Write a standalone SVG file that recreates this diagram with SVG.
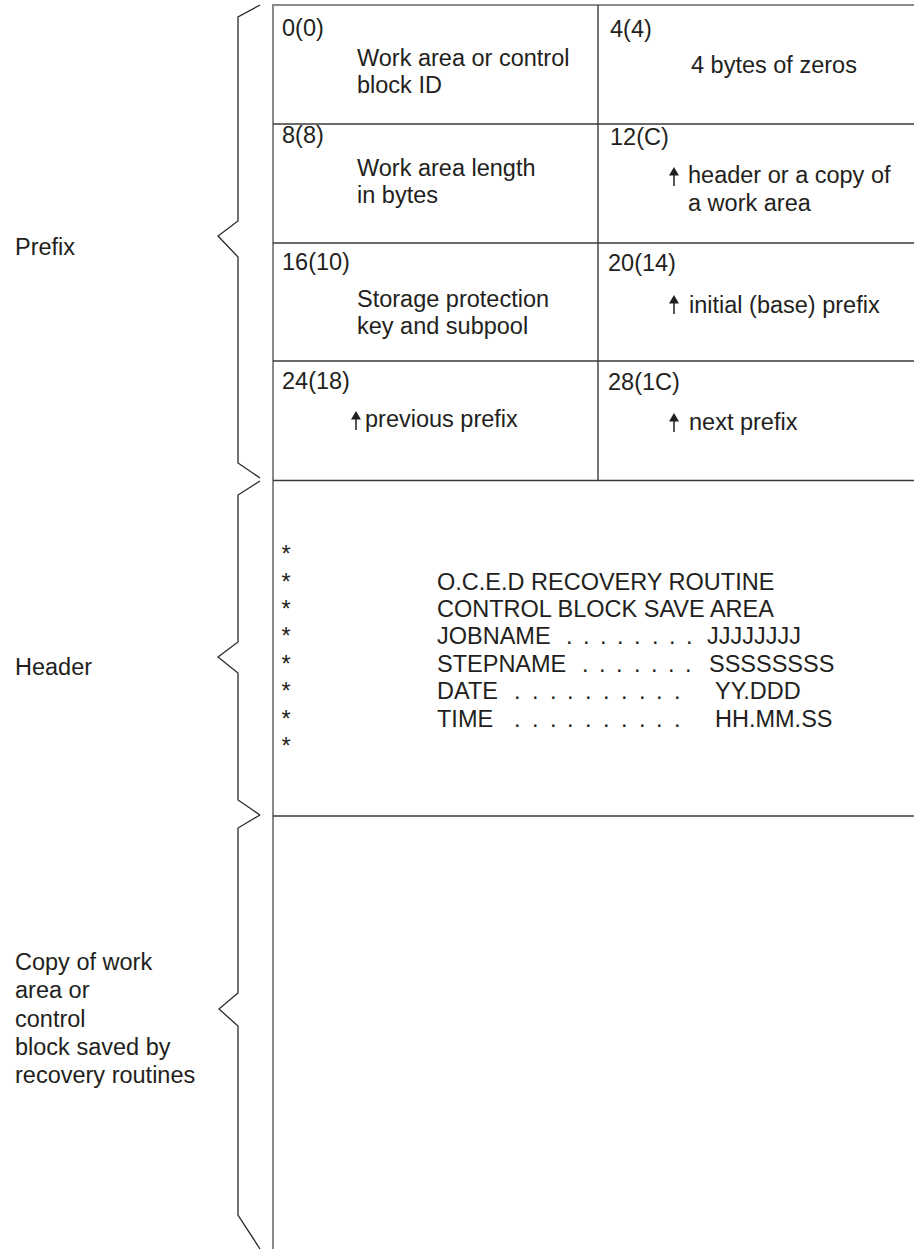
<svg xmlns="http://www.w3.org/2000/svg" width="914" height="1249" viewBox="0 0 914 1249">
  <style>
    text { font-family: "Liberation Sans", Arial, sans-serif; font-size: 23.5px; fill: #231f20; }
    .rule { stroke: #3a3a3a; stroke-width: 1.4; fill: none; }
    .edge { stroke: #8a8a8a; stroke-width: 2; fill: none; }
    .brace { stroke: #2a2a2a; stroke-width: 1.3; fill: none; stroke-linejoin: miter; }
    .shaft { stroke: #231f20; stroke-width: 1.5; }
    .head { fill: #231f20; }
  </style>
  <defs>
    <!-- upward pointer: tip at (0,0) -->
    <g id="ptr">
      <polygon class="head" points="-5,8.5 0,0 5,8.5"/>
      <line class="shaft" x1="0" y1="7" x2="0" y2="19"/>
    </g>
  </defs>

  <rect width="914" height="1249" fill="#ffffff"/>

  <!-- section braces and labels -->
  <g id="prefix-label">
    <path class="brace" d="M260,5 L238,17 L238,221 L218,236 L238,257 L238,463 L260,478"/>
    <text x="15" y="255">Prefix</text>
  </g>
  <g id="header-label">
    <path class="brace" d="M260,481 L238,495 L238,642 L218,657 L238,673 L238,800 L260,815"/>
    <text x="15" y="675">Header</text>
  </g>
  <g id="copy-label">
    <path class="brace" d="M260,815 L238,828 L238,993 L219,1009 L238,1026 L238,1215 L260,1249"/>
    <text x="15" y="970">Copy of work</text>
    <text x="15" y="998">area or</text>
    <text x="15" y="1027">control</text>
    <text x="15" y="1055">block saved by</text>
    <text x="15" y="1083">recovery routines</text>
  </g>

  <!-- table frame -->
  <g id="frame">
    <line class="edge" x1="273" y1="5" x2="914" y2="5"/>
    <line class="edge" x1="273" y1="4" x2="273" y2="1249"/>
    <line class="rule" x1="598" y1="5" x2="598" y2="480"/>
    <line class="rule" x1="273" y1="124" x2="914" y2="124"/>
    <line class="rule" x1="273" y1="243" x2="914" y2="243"/>
    <line class="rule" x1="273" y1="361" x2="914" y2="361"/>
    <line class="rule" x1="273" y1="480.5" x2="914" y2="480.5"/>
    <line class="rule" x1="273" y1="816" x2="914" y2="816"/>
  </g>

  <!-- prefix fields -->
  <g id="f00">
    <text x="282" y="36">0(0)</text>
    <text x="357" y="66">Work area or control</text>
    <text x="357" y="93">block ID</text>
  </g>
  <g id="f04">
    <text x="610" y="37">4(4)</text>
    <text x="691" y="73">4 bytes of zeros</text>
  </g>
  <g id="f08">
    <text x="282" y="143">8(8)</text>
    <text x="357" y="176">Work area length</text>
    <text x="357" y="203">in bytes</text>
  </g>
  <g id="f0C">
    <text x="610" y="145">12(C)</text>
    <use href="#ptr" x="674" y="167"/>
    <text x="688" y="183">header or a copy of</text>
    <text x="688" y="211">a work area</text>
  </g>
  <g id="f10">
    <text x="282" y="270">16(10)</text>
    <text x="357" y="307">Storage protection</text>
    <text x="357" y="334">key and subpool</text>
  </g>
  <g id="f14">
    <text x="608" y="271">20(14)</text>
    <use href="#ptr" x="674" y="295"/>
    <text x="689" y="313">initial (base) prefix</text>
  </g>
  <g id="f18">
    <text x="282" y="389">24(18)</text>
    <use href="#ptr" x="356" y="411"/>
    <text x="365" y="427">previous prefix</text>
  </g>
  <g id="f1C">
    <text x="608" y="390">28(1C)</text>
    <use href="#ptr" x="674" y="413"/>
    <text x="689" y="430">next prefix</text>
  </g>

  <!-- header record -->
  <g id="header-text">
    <text x="281.5" y="562">*</text>
    <text x="281.5" y="590">*</text>
    <text x="281.5" y="617">*</text>
    <text x="281.5" y="644">*</text>
    <text x="281.5" y="672">*</text>
    <text x="281.5" y="699">*</text>
    <text x="281.5" y="727">*</text>
    <text x="281.5" y="754">*</text>

    <text x="437" y="590">O.C.E.D RECOVERY ROUTINE</text>
    <text x="437" y="617">CONTROL BLOCK SAVE AREA</text>
    <text x="437" y="644">JOBNAME</text>
    <text x="566 583 600 617 634 652 669 686" y="644">........</text>
    <text x="707" y="644">JJJJJJJJ</text>
    <text x="437" y="672">STEPNAME</text>
    <text x="582 599 616 634 651 668 685" y="672">.......</text>
    <text x="709" y="672">SSSSSSSS</text>
    <text x="437" y="699">DATE</text>
    <text x="514 532 550 567 585 603 621 639 656 674" y="699">..........</text>
    <text x="715" y="699">YY.DDD</text>
    <text x="437" y="727">TIME</text>
    <text x="514 532 550 567 585 603 621 639 656 674" y="727">..........</text>
    <text x="715" y="727">HH.MM.SS</text>
  </g>
</svg>
